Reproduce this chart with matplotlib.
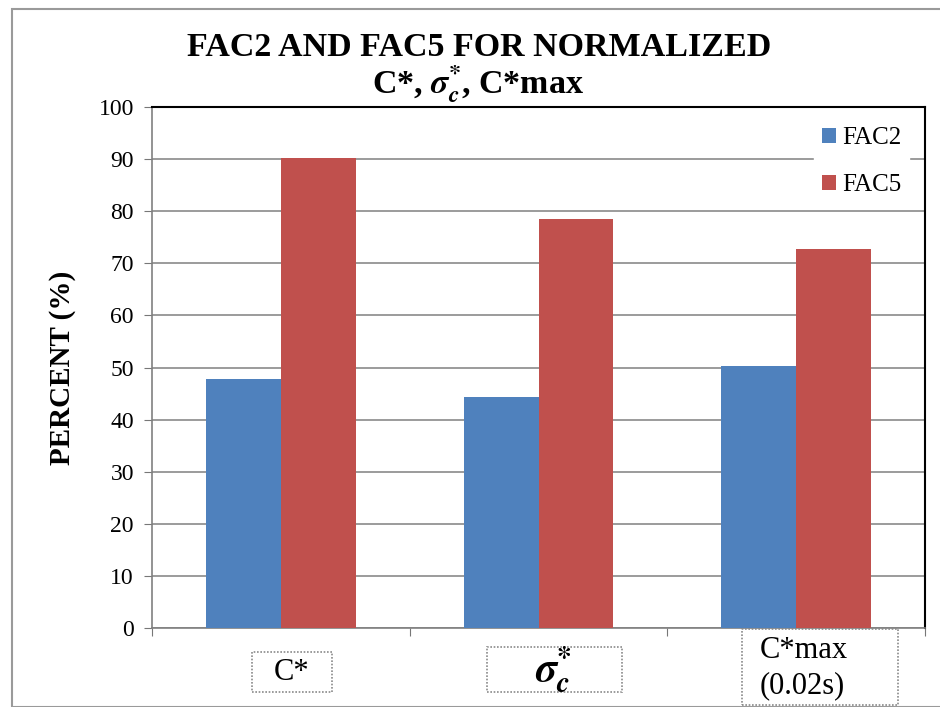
import matplotlib
matplotlib.use("Agg")
import matplotlib.pyplot as plt
from matplotlib.patches import Rectangle
import numpy as np

plt.rcParams["font.family"] = ["Liberation Serif", "DejaVu Serif"]
plt.rcParams["mathtext.fontset"] = "stix"

categories = ["C*", r"$\mathbfit{\sigma}_{\mathbfit{c}}^{\mathbf{*}}$", "C*max\n(0.02s)"]
fac2 = [47.7, 44.4, 50.2]
fac5 = [90.2, 78.5, 72.8]

blue = "#4F81BD"
red = "#C0504D"

fig = plt.figure(figsize=(9.4, 7.07), dpi=100)
W, H = 940, 707

# outer chart frame
fig.patches.append(Rectangle((12 / W, 0), 1.0, 1 - 9 / H, transform=fig.transFigure,
                             fill=False, edgecolor="#9a9a9a", lw=1.5))

ax = fig.add_axes([152 / W, (H - 628) / H, (925 - 152) / W, (628 - 107) / H])

x = np.arange(len(categories))
w = 0.29
ax.bar(x - w / 2, fac2, w, color=blue, label="FAC2", zorder=3)
ax.bar(x + w / 2, fac5, w, color=red, label="FAC5", zorder=3)

ax.set_xlim(-0.5, 2.5)
ax.set_ylim(0, 100)
ax.set_yticks(range(0, 101, 10))
ax.set_xticks([-0.5, 0.5, 1.5, 2.5])
ax.set_xticklabels([])
ax.tick_params(axis="both", direction="out", length=6, color="#777777", labelsize=17)
ax.tick_params(axis="y", pad=7)
ax.yaxis.grid(True, color="#8a8a8a", lw=1.2, zorder=0)
ax.set_axisbelow(True)
for s in ["left", "bottom"]:
    ax.spines[s].set_color("#808080")
    ax.spines[s].set_linewidth(1.2)
for s in ["top", "right"]:
    ax.spines[s].set_color("black")
    ax.spines[s].set_linewidth(1.5)

ax.set_ylabel("PERCENT (%)", fontsize=21, fontweight="bold", labelpad=16)

leg = ax.legend(loc="upper right", bbox_to_anchor=(0.995, 1.0), fontsize=18,
                frameon=True, framealpha=1, edgecolor="white", fancybox=False,
                handlelength=0.55, handleheight=0.55, handletextpad=0.25,
                labelspacing=1.0, borderpad=0.3)

# category labels in dotted boxes below the axis
boxes = [(252, 652, 80, 40), (487, 647, 135, 45), (742, 629, 156, 76)]
label_pos = [(292, 672, "center"), (553, 669, "center"), (760, 668, "left")]
for (bx, by, bw, bh), (tx, ty, ha), lab in zip(boxes, label_pos, categories):
    fig.patches.append(Rectangle((bx / W, 1 - (by + bh) / H), bw / W, bh / H,
                                 transform=fig.transFigure, fill=False,
                                 edgecolor="#8a8a8a", lw=1.2, linestyle=(0, (1, 1))))
    size = 30 if lab.startswith("$") else 22
    fig.text(tx / W, 1 - ty / H, lab, ha=ha, va="center", fontsize=size,
             linespacing=1.25)

fig.text(479 / W, 1 - 47 / H, "FAC2 AND FAC5 FOR NORMALIZED", ha="center", va="center",
         fontsize=24.5, fontweight="bold")
fig.text(478 / W, 1 - 84 / H,
         r"C*, $\mathbfit{\sigma}_{\mathbfit{c}}^{\mathbf{*}}$, C*max",
         ha="center", va="center", fontsize=24.5, fontweight="bold")

fig.savefig("out.png", dpi=100)
